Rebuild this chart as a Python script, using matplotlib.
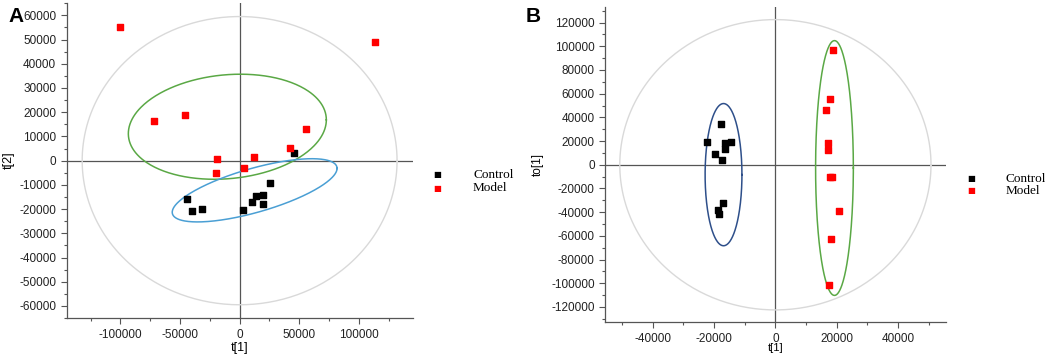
import matplotlib.pyplot as plt
import numpy as np

plt.rcParams['axes.unicode_minus'] = False

# panel A: PCA scores t[1] / t[2]
a_ctrl_x = [-44000, -40300, -31700, 2500, 10700, 13400, 19600, 19600, 25800, 46000]
a_ctrl_y = [-15900, -20900, -20000, -20300, -17000, -14700, -14000, -17900, -9200, 3000]
a_model_x = [-100000, -71700, -45600, -19100, -19600, 3600, 12000, 113400, 55500, 42600]
a_model_y = [55100, 16300, 19000, 800, -4900, -3200, 1600, 48800, 12900, 5100]

# panel B: OPLS-DA scores t[1] / to[1]
b_ctrl_x = [-17700, -22200, -14400, -16400, -16400, -19800, -17300, -17200, -18800, -18400]
b_ctrl_y = [34700, 19200, 19200, 18600, 13000, 9300, 3900, -32200, -38100, -41900]
b_model_x = [18800, 17700, 16600, 17300, 17300, 17700, 18500, 20700, 18200, 17600]
b_model_y = [96900, 55300, 46300, 18600, 12400, -10200, -10200, -39300, -62700, -101700]

# ellipses: (cx, cy, a, b, shear)
a_t2 = (0, 0, 132000, 59500, 0)
a_green = (-10300, 14000, 83000, 21500, 2850)
a_blue = (12600, -12250, 69100, 9400, 9050)
b_t2 = (0, 0, 50700, 122500, 0)
b_blue = (-16900, -8350, 6000, 60000, 0)
b_green = (19250, -2750, 6150, 107500, 0)

fig = plt.figure(figsize=(10.45, 3.57), dpi=100)
axA = fig.add_axes([0.0638, 0.109, 0.331, 0.882])
axB = fig.add_axes([0.579, 0.097, 0.326, 0.883])


def ellipse(ax, e, color, lw=1.0):
    cx, cy, a, b, k = e
    t = np.linspace(0, 2 * np.pi, 400)
    ax.plot(cx + a * np.cos(t), cy + b * np.sin(t) + k * np.cos(t), color=color, lw=lw, zorder=2)


def style(ax, xlim, ylim, xmaj, xmin, ymaj, ymin):
    ax.set_xlim(*xlim)
    ax.set_ylim(*ylim)
    ax.spines['top'].set_visible(False)
    ax.spines['right'].set_visible(False)
    for s in ('left', 'bottom'):
        ax.spines[s].set_color('#555555')
        ax.spines[s].set_linewidth(0.9)
    ax.set_xticks(xmaj)
    ax.set_xticks(xmin, minor=True)
    ax.set_yticks(ymaj)
    ax.set_yticks(ymin, minor=True)
    ax.tick_params(which='both', direction='out', color='#555555', labelsize=8.5,
                   labelcolor='#222222', width=0.8)
    ax.tick_params(which='major', length=4)
    ax.tick_params(which='minor', length=2.5)
    for lab in ax.get_xticklabels() + ax.get_yticklabels():
        lab.set_family('Liberation Sans')
    ax.axhline(0, color='#555555', lw=0.9, zorder=1)
    ax.axvline(0, color='#555555', lw=0.9, zorder=1)


# ---- A ----
ellipse(axA, a_t2, '#d9d9d9', 1.0)
ellipse(axA, a_green, '#5aa845', 1.1)
ellipse(axA, a_blue, '#4a9fd4', 1.1)
axA.scatter(a_ctrl_x, a_ctrl_y, marker='s', s=13, color='black', zorder=3)
axA.scatter(a_model_x, a_model_y, marker='s', s=13, color='red', zorder=3)
style(axA, (-145000, 145000), (-65000, 65000),
      [-100000, -50000, 0, 50000, 100000], np.arange(-125000, 145000, 25000),
      np.arange(-60000, 60001, 10000), np.arange(-65000, 65001, 5000))
axA.set_xlabel('t[1]', fontsize=9, family='Liberation Sans')
axA.set_ylabel('t[2]', fontsize=9, family='Liberation Sans')
axA.xaxis.set_label_coords(0.5, -0.075)
axA.yaxis.set_label_coords(-0.15, 0.5)

# ---- B ----
ellipse(axB, b_t2, '#d9d9d9', 1.0)
ellipse(axB, b_blue, '#2e4f8a', 1.1)
ellipse(axB, b_green, '#5aa845', 1.1)
axB.scatter(b_ctrl_x, b_ctrl_y, marker='s', s=13, color='black', zorder=3)
axB.scatter(b_model_x, b_model_y, marker='s', s=13, color='red', zorder=3)
style(axB, (-55500, 55500), (-133000, 133000),
      [-40000, -20000, 0, 20000, 40000], np.arange(-50000, 50001, 10000),
      np.arange(-120000, 120001, 20000), np.arange(-130000, 130001, 10000))
axB.set_xlabel('t[1]', fontsize=8, family='Liberation Sans')
axB.set_ylabel('to[1]', fontsize=8.5, family='Liberation Sans')
axB.xaxis.set_label_coords(0.5, -0.065)
axB.yaxis.set_label_coords(-0.18, 0.5)

# legends drawn as figure text
for x0, tx, ys in [(436.7, 473, (175, 188)), (971, 1006, (179, 191))]:
    for (lab, col), yy in zip([('Control', 'black'), ('Model', 'red')], ys):
        fig.text(x0 / 1045, 1 - yy / 357, '\u25a0', color=col, fontsize=6,
                 ha='center', va='center', family='DejaVu Sans')
        fig.text(tx / 1045, 1 - yy / 357, lab, fontsize=9.5, ha='left', va='center',
                 family='Liberation Serif')

fig.text(8 / 1045, 1 - 16 / 357, 'A', fontsize=15, fontweight='bold', va='center',
         family='Liberation Sans')
fig.text(526 / 1045, 1 - 16 / 357, 'B', fontsize=15, fontweight='bold', va='center',
         family='Liberation Sans')

fig.savefig('out.png', dpi=100)
